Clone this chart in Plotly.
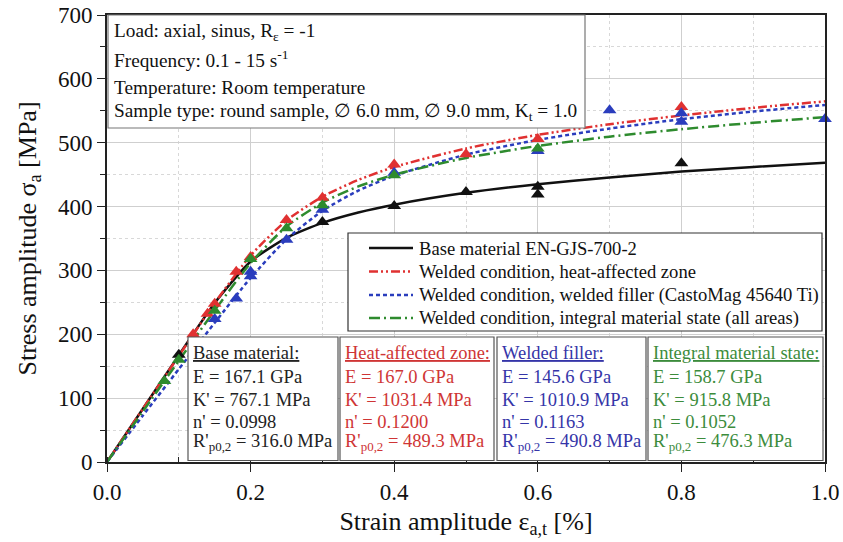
import plotly.graph_objects as go

# ---- data ----
strain = [0, 0.05, 0.1, 0.15, 0.2, 0.25, 0.3, 0.35, 0.4, 0.5, 0.6, 0.7, 0.8, 0.9, 1.0]
base_curve = [0, 83.5, 167, 249, 314, 351, 374.5, 390.8, 403, 421.5, 435, 445.5, 455, 462, 468.8]
haz_curve = [0, 83.5, 166, 249, 323.4, 378.3, 415.5, 441.8, 462, 491, 512.3, 529, 542.7, 554.6, 564.8]
filler_curve = [0, 72.8, 145.5, 218, 288.3, 348.6, 393.3, 425, 448.3, 481.4, 504.4, 522.2, 536.8, 548.8, 559.2]
integral_curve = [0, 79.4, 158.7, 237.5, 311.7, 368.8, 406.2, 431.5, 450, 476.2, 495, 509.5, 521.2, 531.2, 540]

base_x = [0.1, 0.3, 0.4, 0.5, 0.6, 0.6, 0.8]
base_y = [168, 376, 401, 423, 431, 419, 468]
haz_x = [0.12, 0.14, 0.15, 0.18, 0.2, 0.25, 0.3, 0.4, 0.5, 0.6, 0.8]
haz_y = [200, 232, 248, 298, 321, 379, 414, 466, 482, 506, 556]
filler_x = [0.15, 0.18, 0.2, 0.2, 0.25, 0.3, 0.4, 0.6, 0.7, 0.8, 0.8, 1.0]
filler_y = [224, 256, 298, 291, 348, 395, 453, 487, 551, 546, 533, 537]
integral_x = [0.08, 0.1, 0.15, 0.2, 0.25, 0.3, 0.4, 0.6]
integral_y = [127, 160, 237, 318, 366, 402, 449, 491]

legend_names = [
    "Base material EN-GJS-700-2",
    "Welded condition, heat-affected zone",
    "Welded condition, welded filler (CastoMag 45640 Ti)",
    "Welded condition, integral material state (all areas)",
]

info_lines = [
    "Load: axial, sinus, R<sub>ε</sub> = -1",
    "Frequency: 0.1 - 15 s<sup>-1</sup>",
    "Temperature: Room temperature",
    "Sample type: round sample, ∅ 6.0 mm, ∅ 9.0 mm, K<sub>t</sub> = 1.0",
]

box_titles = ["Base material:", "Heat-affected zone:", "Welded filler:", "Integral material state:"]
box_E = ["167.1", "167.0", "145.6", "158.7"]
box_K = ["767.1", "1031.4", "1010.9", "915.8"]
box_n = ["0.0998", "0.1200", "0.1163", "0.1052"]
box_R = ["316.0", "489.3", "490.8", "476.3"]

# ---- styles ----
line_colors = ["#111111", "#e03131", "#2a3dbd", "#2e8b2e"]
text_colors = ["#222222", "#cf3535", "#3535a8", "#3c8c3c"]
dashes = ["solid", "9px,3px,2px,3px,2px,3px", "4px,3px", "11px,4px,2px,4px"]
FONT = "Liberation Serif"

fig = go.Figure()
curves = [base_curve, haz_curve, filler_curve, integral_curve]
for i, c in enumerate(curves):
    fig.add_trace(go.Scatter(
        x=strain, y=c, mode="lines", name=legend_names[i], showlegend=False,
        line=dict(color=line_colors[i], width=2.5, dash=dashes[i], shape="spline", smoothing=0.6),
    ))

pts = [(base_x, base_y), (haz_x, haz_y), (filler_x, filler_y), (integral_x, integral_y)]
for i, (px, py) in enumerate(pts):
    fig.add_trace(go.Scatter(
        x=px, y=py, mode="markers", showlegend=False, cliponaxis=False,
        marker=dict(symbol="triangle-up", size=12, color=line_colors[i]),
    ))

shapes = []
annotations = []

# plot area pixel helpers (plot: x 107..825, y 15..462)
def px2x(p):
    return (p - 107) / 718.0

def py2y(p):
    return (462 - p) / 447.0

# info box
shapes.append(dict(type="rect", xref="paper", yref="paper",
                   x0=px2x(108), x1=px2x(585), y0=py2y(128), y1=py2y(15),
                   line=dict(color="#777777", width=1.2), fillcolor="white", layer="above"))
for t, yy in zip(info_lines, [32, 59, 87, 112]):
    annotations.append(dict(xref="paper", yref="paper", x=px2x(112), y=py2y(yy),
                            xanchor="left", yanchor="middle", text=t, showarrow=False,
                            font=dict(family=FONT, size=19.3, color="#111111")))

# legend box (drawn as a framed key)
shapes.append(dict(type="rect", xref="paper", yref="paper",
                   x0=px2x(348), x1=px2x(822), y0=py2y(331), y1=py2y(233),
                   line=dict(color="#333333", width=1.2), fillcolor="white", layer="above"))
for i, (name, yy) in enumerate(zip(legend_names, [248, 271.5, 295, 318])):
    shapes.append(dict(type="line", xref="paper", yref="paper",
                       x0=px2x(369), x1=px2x(413), y0=py2y(yy), y1=py2y(yy),
                       line=dict(color=line_colors[i], width=2.5, dash=dashes[i]), layer="above"))
    annotations.append(dict(xref="paper", yref="paper", x=px2x(417), y=py2y(yy),
                            xanchor="left", yanchor="middle", text=name, showarrow=False,
                            font=dict(family=FONT, size=18.6, color="#111111")))

# parameter boxes
box_edges = [(188, 338), (340, 494), (497, 646), (648, 823)]
line_ys = [353, 376.5, 399.5, 421.5, 442]
for i, (x0, x1) in enumerate(box_edges):
    shapes.append(dict(type="rect", xref="paper", yref="paper",
                       x0=px2x(x0), x1=px2x(x1), y0=py2y(460.5), y1=py2y(337),
                       line=dict(color="#555555", width=1.2), fillcolor="white", layer="above"))
    texts = [
        "<u>" + box_titles[i] + "</u>",
        "E = " + box_E[i] + " GPa",
        "K' = " + box_K[i] + " MPa",
        "n' = " + box_n[i],
        "R'<sub>p0,2</sub> = " + box_R[i] + " MPa",
    ]
    for t, yy in zip(texts, line_ys):
        annotations.append(dict(xref="paper", yref="paper", x=px2x(x0 + 3), y=py2y(yy),
                                xanchor="left", yanchor="middle", text=t, showarrow=False,
                                font=dict(family=FONT, size=18.5, color=text_colors[i])))

fig.update_layout(
    width=843, height=542,
    margin=dict(l=107, r=18, t=15, b=80, autoexpand=False),
    paper_bgcolor="white", plot_bgcolor="white",
    font=dict(family=FONT, color="#111111"),
    shapes=shapes, annotations=annotations,
    showlegend=False,
)

fig.update_xaxes(
    range=[0, 1], dtick=0.2, tick0=0, tickformat=".1f", automargin=False,
    showline=True, linecolor="#222222", linewidth=2, mirror=True,
    ticks="outside", ticklen=8, tickcolor="#222222",
    tickfont=dict(family=FONT, size=23, color="#111111"),
    showgrid=True, gridcolor="#cfcfcf", gridwidth=1.2, zeroline=False,
    minor=dict(dtick=0.1, tick0=0, ticks="inside", ticklen=5, tickcolor="#222222",
               showgrid=True, gridcolor="#d8d8d8", griddash="dot", gridwidth=1),
    title=dict(text="Strain amplitude ε<sub>a,t</sub> [%]", font=dict(family=FONT, size=26, color="#111111"),
               standoff=8),
)
fig.update_yaxes(
    range=[0, 700], dtick=100, tick0=0, automargin=False,
    showline=True, linecolor="#222222", linewidth=2, mirror=True,
    ticks="outside", ticklen=8, tickcolor="#222222",
    tickfont=dict(family=FONT, size=23, color="#111111"),
    showgrid=True, gridcolor="#cfcfcf", gridwidth=1.2, zeroline=False,
    minor=dict(dtick=50, tick0=0, ticks="outside", ticklen=5, tickcolor="#222222",
               showgrid=True, gridcolor="#d8d8d8", griddash="dot", gridwidth=1),
    title=dict(text="Stress amplitude σ<sub>a</sub> [MPa]", font=dict(family=FONT, size=26, color="#111111"),
               standoff=14),
)

fig.write_html("out.html", config={"displayModeBar": False},
               post_script="document.body.style.margin='0px';")
